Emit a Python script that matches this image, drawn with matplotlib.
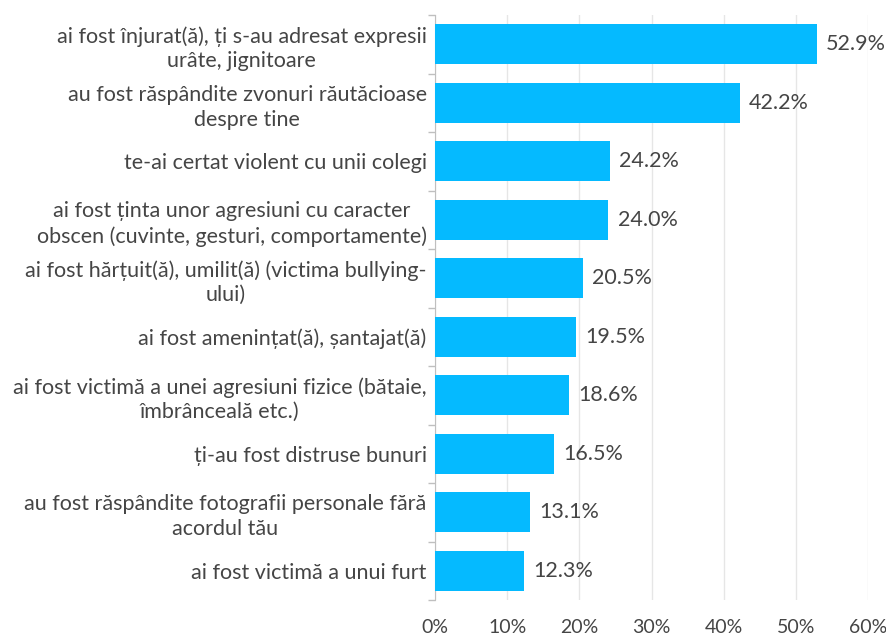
import matplotlib.pyplot as plt
import numpy as np

# categories top to bottom, as shown in the chart
categories = [
    'ai fost înjurat(ă), ți s-au adresat expresii\nurâte, jignitoare',
    'au fost răspândite zvonuri răutăcioase\ndespre tine',
    'te-ai certat violent cu unii colegi',
    'ai fost ținta unor agresiuni cu caracter\nobscen (cuvinte, gesturi, comportamente)',
    'ai fost hărțuit(ă), umilit(ă) (victima bullying-\nului)',
    'ai fost amenințat(ă), șantajat(ă)',
    'ai fost victimă a unei agresiuni fizice (bătaie,\nîmbrânceală etc.)',
    'ți-au fost distruse bunuri',
    'au fost răspândite fotografii personale fără\nacordul tău',
    'ai fost victimă a unui furt',
]
values = [52.9, 42.2, 24.2, 24.0, 20.5, 19.5, 18.6, 16.5, 13.1, 12.3]
xticks = [0, 10, 20, 30, 40, 50, 60]

plt.rcParams['font.family'] = ['Lato', 'DejaVu Sans']
text_color = '#454545'

fig = plt.figure(figsize=(8.86, 6.35), dpi=100)
ax = fig.add_axes([435 / 886, 35 / 635, 433 / 886, 585 / 635])

y = np.arange(len(categories))
ax.barh(y, values, height=0.68, color='#05BAFF', zorder=3)
for yi, v in zip(y, values):
    ax.text(v + 1.3, yi, f'{v:.1f}%', va='center', ha='left',
            fontsize=15.5, color=text_color)

ax.set_ylim(len(categories) - 0.5, -0.5)
ax.set_xlim(0, 60)
ax.set_xticks(xticks)
ax.set_xticklabels([f'{t}%' for t in xticks], fontsize=14, color=text_color)
ax.set_yticks(y)
ax.set_yticklabels(categories, fontsize=15.5, color=text_color, ha='right',
                   multialignment='center', linespacing=1.3)
ax.tick_params(axis='y', length=0, pad=6)

# small separator ticks between categories on the left spine
ax.set_yticks(np.arange(-0.5, len(categories)), minor=True)
ax.tick_params(axis='y', which='minor', length=5, color='#BFBFBF', width=1)
ax.tick_params(axis='x', length=0, pad=14)

ax.grid(axis='x', color='#E6E6E6', linewidth=1, zorder=0)
for s in ['top', 'right', 'bottom']:
    ax.spines[s].set_visible(False)
ax.spines['left'].set_color('#BFBFBF')

fig.savefig('out.png', dpi=100)
